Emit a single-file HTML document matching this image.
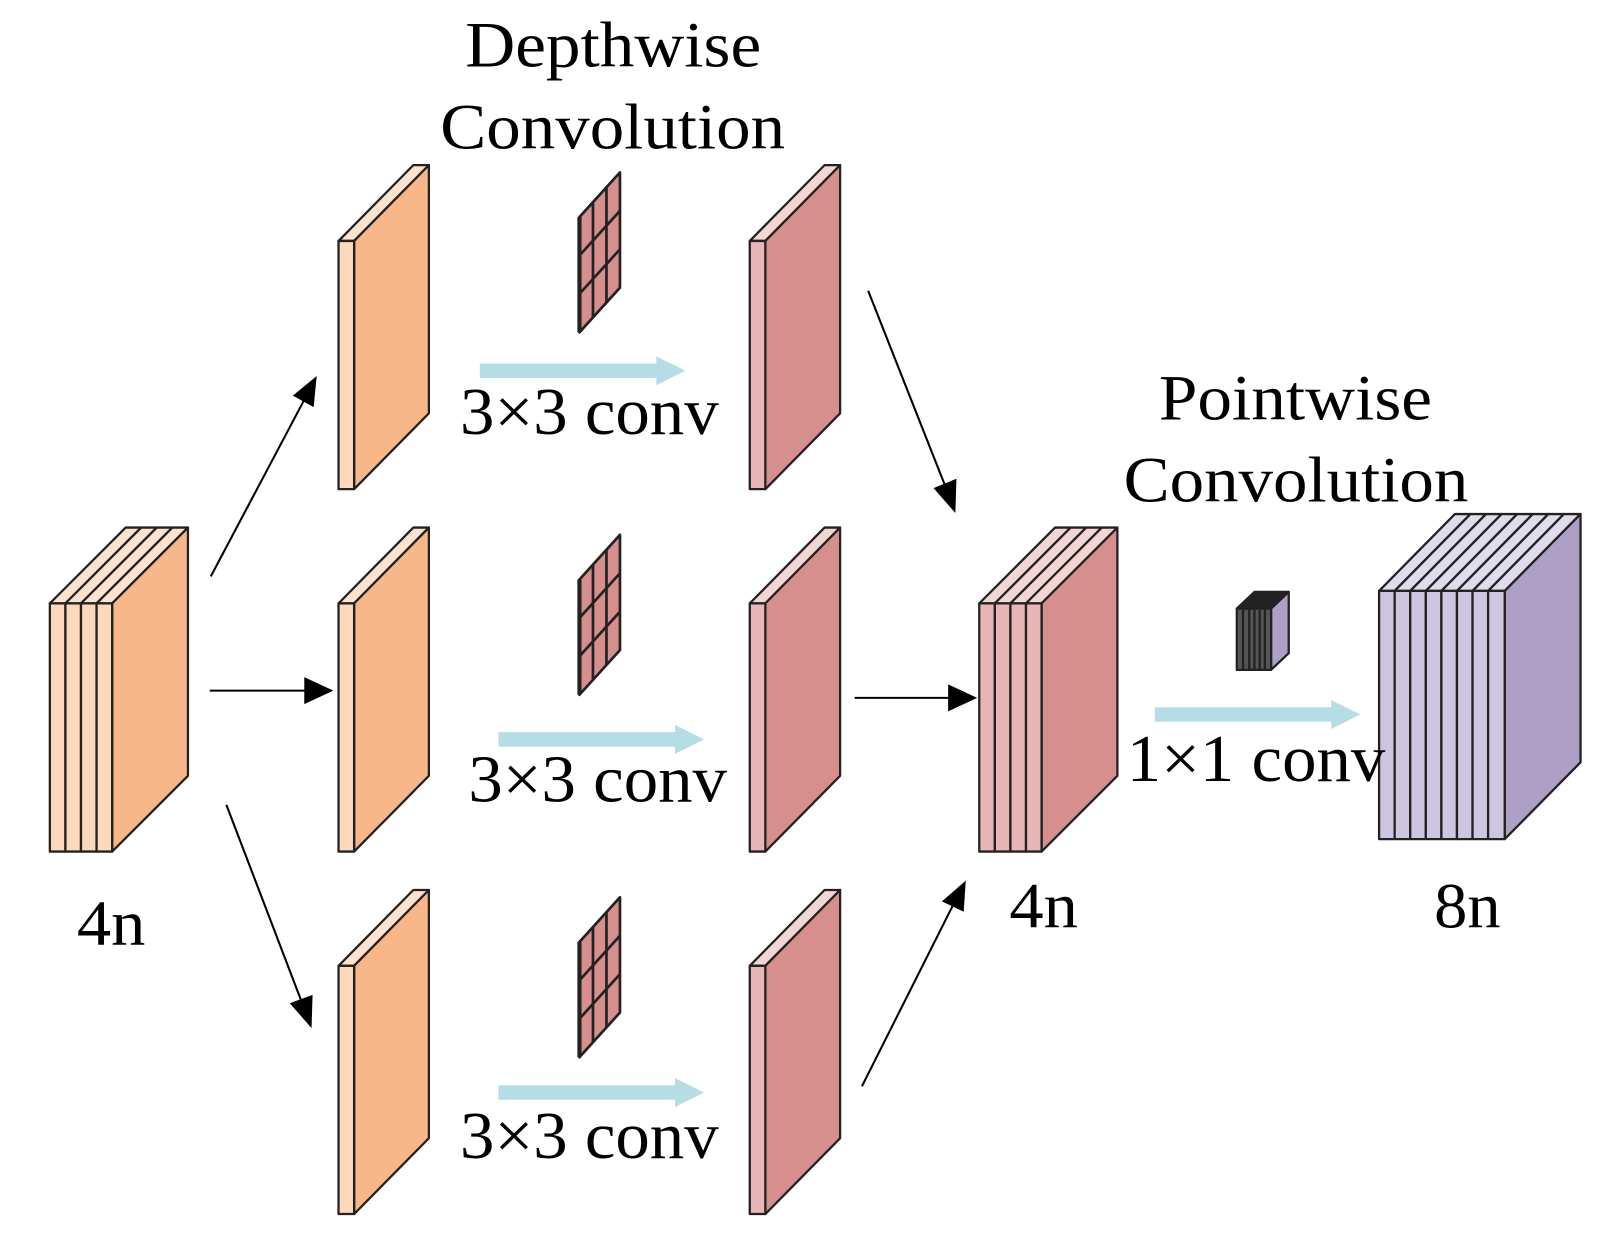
<!DOCTYPE html>
<html><head><meta charset="utf-8"><style>
html,body{margin:0;padding:0;background:#fff;}
svg{display:block;}
text{font-family:"Liberation Serif",serif;fill:#000;}
</style></head><body>
<svg width="1620" height="1254" viewBox="0 0 1560 1207.5" preserveAspectRatio="none" xmlns="http://www.w3.org/2000/svg">
<g stroke="#222" stroke-width="2.2" stroke-linejoin="round">
<g>
<polygon points="326,232 398,159 413,159 341,232" fill="#FCE2CF"/>
<polygon points="341,232 413,159 413,398 341,471" fill="#F7B789"/>
<rect x="326" y="232" width="15" height="239" fill="#FCD8BC"/>
<polygon points="326,581 398,508 413,508 341,581" fill="#FCE2CF"/>
<polygon points="341,581 413,508 413,747 341,820" fill="#F7B789"/>
<rect x="326" y="581" width="15" height="239" fill="#FCD8BC"/>
<polygon points="326,930 398,857 413,857 341,930" fill="#FCE2CF"/>
<polygon points="341,930 413,857 413,1096 341,1169" fill="#F7B789"/>
<rect x="326" y="930" width="15" height="239" fill="#FCD8BC"/>
</g>
<g>
<polygon points="722,232 794,159 809,159 737,232" fill="#F2D6D4"/>
<polygon points="737,232 809,159 809,398 737,471" fill="#D68F8C"/>
<rect x="722" y="232" width="15" height="239" fill="#E8B6B6"/>
<polygon points="722,581 794,508 809,508 737,581" fill="#F2D6D4"/>
<polygon points="737,581 809,508 809,747 737,820" fill="#D68F8C"/>
<rect x="722" y="581" width="15" height="239" fill="#E8B6B6"/>
<polygon points="722,930 794,857 809,857 737,930" fill="#F2D6D4"/>
<polygon points="737,930 809,857 809,1096 737,1169" fill="#D68F8C"/>
<rect x="722" y="930" width="15" height="239" fill="#E8B6B6"/>
</g>
<g>
<polygon points="48,581 121,508 136,508 63,581" fill="#FCE2CF"/>
<polygon points="63,581 136,508 151,508 78,581" fill="#FCE2CF"/>
<polygon points="78,581 151,508 166,508 93,581" fill="#FCE2CF"/>
<polygon points="93,581 166,508 181,508 108,581" fill="#FCE2CF"/>
<polygon points="108,581 181,508 181,747 108,820" fill="#F7B789"/>
<rect x="48" y="581" width="15" height="239" fill="#FCD8BC"/>
<rect x="63" y="581" width="15" height="239" fill="#FCD8BC"/>
<rect x="78" y="581" width="15" height="239" fill="#FCD8BC"/>
<rect x="93" y="581" width="15" height="239" fill="#FCD8BC"/>
</g>
<g>
<polygon points="943,581 1016,508 1031,508 958,581" fill="#F2D6D4"/>
<polygon points="958,581 1031,508 1046,508 973,581" fill="#F2D6D4"/>
<polygon points="973,581 1046,508 1061,508 988,581" fill="#F2D6D4"/>
<polygon points="988,581 1061,508 1076,508 1003,581" fill="#F2D6D4"/>
<polygon points="1003,581 1076,508 1076,747 1003,820" fill="#D68F8C"/>
<rect x="943" y="581" width="15" height="239" fill="#E8B6B6"/>
<rect x="958" y="581" width="15" height="239" fill="#E8B6B6"/>
<rect x="973" y="581" width="15" height="239" fill="#E8B6B6"/>
<rect x="988" y="581" width="15" height="239" fill="#E8B6B6"/>
</g>
<g>
<polygon points="1328,569 1401,495 1416,495 1343,569" fill="#E0DCEC"/>
<polygon points="1343,569 1416,495 1431,495 1358,569" fill="#E0DCEC"/>
<polygon points="1358,569 1431,495 1446,495 1373,569" fill="#E0DCEC"/>
<polygon points="1373,569 1446,495 1461,495 1388,569" fill="#E0DCEC"/>
<polygon points="1388,569 1461,495 1476,495 1403,569" fill="#E0DCEC"/>
<polygon points="1403,569 1476,495 1491,495 1418,569" fill="#E0DCEC"/>
<polygon points="1418,569 1491,495 1506,495 1433,569" fill="#E0DCEC"/>
<polygon points="1433,569 1506,495 1522,495 1449,569" fill="#E0DCEC"/>
<polygon points="1449,569 1522,495 1522,734 1449,808" fill="#AE9FC6"/>
<rect x="1328" y="569" width="15" height="239" fill="#CEC5DE"/>
<rect x="1343" y="569" width="15" height="239" fill="#CEC5DE"/>
<rect x="1358" y="569" width="15" height="239" fill="#CEC5DE"/>
<rect x="1373" y="569" width="15" height="239" fill="#CEC5DE"/>
<rect x="1388" y="569" width="15" height="239" fill="#CEC5DE"/>
<rect x="1403" y="569" width="15" height="239" fill="#CEC5DE"/>
<rect x="1418" y="569" width="15" height="239" fill="#CEC5DE"/>
<rect x="1433" y="569" width="16" height="239" fill="#CEC5DE"/>
</g>
<g>
<polygon points="1191,586 1208,570 1241,570 1224,586" fill="#222"/>
<polygon points="1224,586 1241,570 1241,629 1224,645" fill="#AE9FC6"/>
<rect x="1191" y="586" width="33" height="59" fill="#555"/>
<line x1="1197" y1="586" x2="1197" y2="645"/>
<line x1="1203" y1="586" x2="1203" y2="645"/>
<line x1="1208" y1="586" x2="1208" y2="645"/>
<line x1="1213" y1="586" x2="1213" y2="645"/>
<line x1="1218" y1="586" x2="1218" y2="645"/>
</g>
<g fill="#D68F8C" stroke-width="2.6">
<polygon points="558,209 597,166 597,277 558,320"/>
<line x1="571" y1="195" x2="571" y2="306"/>
<line x1="584" y1="180" x2="584" y2="291"/>
<line x1="558" y1="246" x2="597" y2="203"/>
<line x1="558" y1="283" x2="597" y2="240"/>
<line x1="558" y1="209" x2="558" y2="320" stroke-width="4"/>
<polygon points="558,558 597,515 597,626 558,669"/>
<line x1="571" y1="544" x2="571" y2="655"/>
<line x1="584" y1="529" x2="584" y2="640"/>
<line x1="558" y1="595" x2="597" y2="552"/>
<line x1="558" y1="632" x2="597" y2="589"/>
<line x1="558" y1="558" x2="558" y2="669" stroke-width="4"/>
<polygon points="558,907 597,864 597,975 558,1018"/>
<line x1="571" y1="893" x2="571" y2="1004"/>
<line x1="584" y1="878" x2="584" y2="989"/>
<line x1="558" y1="944" x2="597" y2="901"/>
<line x1="558" y1="981" x2="597" y2="938"/>
<line x1="558" y1="907" x2="558" y2="1018" stroke-width="4"/>
</g>
</g>
<g fill="#B5DDE6">
<polygon points="462,350 632,350 632,343 660,357 632,371 632,364 462,364"/>
<polygon points="480,705 650,705 650,698 678,712 650,726 650,719 480,719"/>
<polygon points="480,1045 650,1045 650,1038 678,1052 650,1066 650,1059 480,1059"/>
<polygon points="1112,681 1282,681 1282,674 1310,688 1282,702 1282,695 1112,695"/>
</g>
<g stroke="#000" stroke-width="2" fill="#000">
<line x1="203" y1="555" x2="293" y2="385"/>
<polygon points="305,362 302,392 282,381" stroke="none"/>
<line x1="202" y1="665" x2="295" y2="665"/>
<polygon points="321,665 293,652 293,678" stroke="none"/>
<line x1="218" y1="775" x2="291" y2="966"/>
<polygon points="300,990 279,966 301,958" stroke="none"/>
<line x1="836" y1="280" x2="911" y2="470"/>
<polygon points="920,494 899,470 921,461" stroke="none"/>
<line x1="823" y1="672" x2="914" y2="672"/>
<polygon points="941,672 913,659 913,685" stroke="none"/>
<line x1="830" y1="1046" x2="918" y2="871"/>
<polygon points="930,848 928,878 907,868" stroke="none"/>
</g>
<g font-size="62">
<text x="448" y="64" textLength="285" lengthAdjust="spacingAndGlyphs">Depthwise</text>
<text x="424" y="143" textLength="332" lengthAdjust="spacingAndGlyphs">Convolution</text>
<text x="1116" y="404" textLength="263" lengthAdjust="spacingAndGlyphs">Pointwise</text>
<text x="1082" y="483" textLength="332" lengthAdjust="spacingAndGlyphs">Convolution</text>
<text x="443" y="418" font-size="64" textLength="249" lengthAdjust="spacingAndGlyphs">3×3 conv</text>
<text x="451" y="772" font-size="64" textLength="249" lengthAdjust="spacingAndGlyphs">3×3 conv</text>
<text x="443" y="1115" font-size="64" textLength="249" lengthAdjust="spacingAndGlyphs">3×3 conv</text>
<text x="1085" y="752" font-size="64" textLength="249" lengthAdjust="spacingAndGlyphs">1×1 conv</text>
<text x="74" y="910" textLength="66" lengthAdjust="spacingAndGlyphs">4n</text>
<text x="972" y="893" textLength="66" lengthAdjust="spacingAndGlyphs">4n</text>
<text x="1381" y="893" textLength="64" lengthAdjust="spacingAndGlyphs">8n</text>
</g>
</svg>
</body></html>
